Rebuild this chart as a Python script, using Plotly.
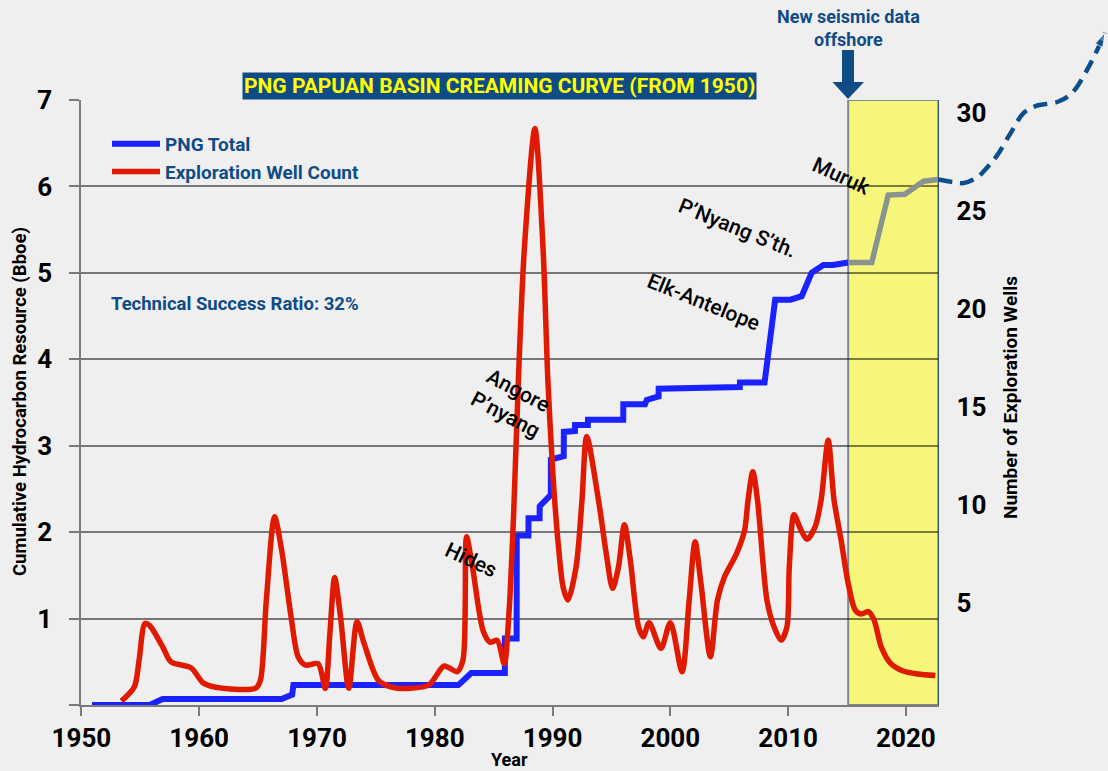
import plotly.graph_objects as go

# ---------------- data ----------------
png_total_year = [1950.9, 1955.8, 1956.9, 1967.0, 1967.9, 1968.0, 1982.0, 1983.1, 1985.95, 1985.96,
                  1986.95, 1986.96, 1987.95, 1987.96, 1988.9, 1988.91, 1989.85, 1989.86, 1990.95, 1990.96,
                  1991.9, 1991.91, 1993.0, 1993.01, 1996.0, 1996.01, 1997.85, 1998.0, 1999.0, 1999.01,
                  2005.9, 2005.91, 2008.0, 2008.9, 2010.2, 2011.15, 2012.0, 2013.0, 2013.8, 2015.1]
png_total_bboe = [0.0, 0.0, 0.07, 0.07, 0.12, 0.23, 0.23, 0.37, 0.37, 0.77,
                  0.77, 1.96, 1.96, 2.16, 2.16, 2.30, 2.43, 2.84, 2.88, 3.16,
                  3.17, 3.24, 3.24, 3.30, 3.30, 3.48, 3.48, 3.53, 3.57, 3.66,
                  3.68, 3.73, 3.73, 4.69, 4.69, 4.73, 5.00, 5.09, 5.09, 5.12]

recent_year = [2015.1, 2017.1, 2018.5, 2019.9, 2021.5, 2022.75]
recent_bboe = [5.12, 5.12, 5.90, 5.91, 6.06, 6.08]

outlook_year = [2022.75, 2024.0, 2024.9, 2026.1, 2026.9, 2027.7, 2028.9, 2030.0, 2031.0, 2032.9,
                2034.1, 2035.7, 2036.9]
outlook_bboe = [6.08, 6.05, 6.04, 6.11, 6.22, 6.35, 6.62, 6.85, 6.93, 6.98,
                7.08, 7.43, 7.78]

well_year = [1953.4, 1954.5, 1954.9, 1955.4, 1955.8, 1956.9, 1957.6, 1959.3, 1960.4, 1961.9,
             1964.8, 1965.2, 1965.7, 1966.4, 1967.0, 1967.8, 1968.4, 1969.0, 1970.1, 1970.7,
             1971.1, 1971.5, 1972.0, 1972.7, 1973.4, 1974.0, 1975.2, 1976.4, 1977.9, 1979.5,
             1980.8, 1981.9, 1982.4, 1982.7, 1983.2, 1984.1, 1984.7, 1985.3, 1985.9, 1986.3,
             1986.7, 1987.1, 1987.6, 1988.5, 1989.2, 1989.6, 1990.06, 1990.5, 1990.9, 1991.3,
             1992.0, 1992.5, 1992.9, 1993.9, 1994.6, 1995.1, 1995.6, 1996.1, 1996.6, 1997.3,
             1997.7, 1998.2, 1999.2, 2000.0, 2001.0, 2001.6, 2002.1, 2002.6, 2003.4, 2004.0,
             2004.6, 2005.6, 2006.3, 2006.6, 2007.0, 2007.4, 2008.2, 2008.8, 2009.4, 2009.9,
             2010.1, 2010.5, 2011.1, 2011.6, 2012.3, 2012.8, 2013.4, 2013.9, 2014.5, 2015.1,
             2015.7, 2016.2, 2016.8, 2017.3, 2017.9, 2018.7, 2019.7, 2021.0, 2022.5]
well_count = [0.0, 0.73, 2.1, 3.96, 3.85, 2.77, 2.0, 1.7, 0.9, 0.66,
              0.66, 1.07, 5.15, 9.4, 7.7, 4.3, 2.26, 1.84, 1.9, 0.65,
              3.47, 6.3, 4.3, 0.65, 4.05, 2.94, 1.07, 0.7, 0.65, 0.82,
              1.79, 1.5, 2.1, 8.38, 6.85, 3.6, 3.0, 3.1, 1.9, 4.5,
              9.6, 16.4, 23.0, 29.2, 23.0, 16.4, 11.3, 7.9, 5.8, 5.15,
              6.85, 10.25, 13.5, 10.25, 7.36, 5.75, 6.85, 9.0, 7.2, 3.79,
              3.28, 4.0, 2.69, 4.0, 1.5, 5.15, 8.13, 6.0, 2.26, 5.15,
              6.34, 7.5, 8.7, 10.25, 11.7, 10.25, 5.15, 3.79, 3.11, 3.79,
              6.85, 9.5, 8.72, 8.25, 8.9, 10.25, 13.3, 10.25, 8.2, 6.0,
              4.64, 4.44, 4.56, 4.13, 2.77, 1.92, 1.55, 1.38, 1.3]

x_ticks = [1950, 1960, 1970, 1980, 1990, 2000, 2010, 2020]
left_ticks = [0, 1, 2, 3, 4, 5, 6, 7]
left_tick_text = ["", "1", "2", "3", "4", "5", "6", "7"]
right_ticks = [5, 10, 15, 20, 25, 30]
seismic_window = [2015.1, 2022.75]

events = ["Hides", "Angore<br>P’nyang", "Elk-Antelope", "P’Nyang S’th.", "Muruk"]

# ---------------- layout geometry ----------------
W, H = 1108, 771
def px(x):
    return x / W
def py(y):
    return 1 - y / H

X_RANGE = [1950, 2022.75]
Y_RANGE = [0, 7]
Y2_RANGE = [-0.2, 30.66]
xd = [px(81.4), px(938.3)]
yd = [py(705), py(100)]

def extend(rng, dom):
    span = (rng[1] - rng[0]) / (dom[1] - dom[0])
    return [rng[0] - dom[0] * span, rng[1] + (1 - dom[1]) * span]

BG = "#efefef"
NAVY = "#0f4c85"
FONT = "Roboto"

fig = go.Figure()

fig.add_trace(go.Scatter(x=png_total_year, y=png_total_bboe, mode="lines", name="PNG Total",
                         line=dict(color="#1a22ff", width=6), xaxis="x", yaxis="y",
                         legendgroup="a"))
fig.add_trace(go.Scatter(x=well_year, y=well_count, mode="lines", name="Exploration Well Count",
                         line=dict(color="#e01a00", width=5.5, shape="spline", smoothing=0.8),
                         xaxis="x", yaxis="y2", legendgroup="b"))
fig.add_trace(go.Scatter(x=recent_year, y=recent_bboe, mode="lines", showlegend=False,
                         line=dict(color="#8a948e", width=5.5), xaxis="x", yaxis="y"))
sizes = [0] * (len(outlook_year) - 1) + [15]
fig.add_trace(go.Scatter(x=outlook_year, y=outlook_bboe, mode="lines+markers", showlegend=False,
                         line=dict(color="#0d4f8b", width=4.5, dash="14px,8px", shape="spline"),
                         marker=dict(symbol="arrow", angleref="previous", size=sizes, color="#0d4f8b"),
                         xaxis="x3", yaxis="y3", cliponaxis=False))

tickfont = dict(family=FONT, size=26, color="black", weight="bold")

fig.update_layout(
    template="none",
    margin=dict(l=0, r=0, t=0, b=0, pad=0, autoexpand=False),
    paper_bgcolor=BG, plot_bgcolor="rgba(0,0,0,0)",
    font=dict(family=FONT),
    showlegend=True,
    legend=dict(x=px(107), y=py(125), xanchor="left", yanchor="top", bgcolor="rgba(0,0,0,0)",
                font=dict(family=FONT, size=19, color=NAVY, weight="bold"),
                traceorder="grouped", tracegroupgap=0, itemwidth=48),
    xaxis=dict(domain=xd, range=X_RANGE, tickvals=x_ticks, ticks="outside", ticklen=9,
               tickcolor="#7a7a7a", tickwidth=2, showline=True, linecolor="#7a7a7a", linewidth=2,
               showgrid=False, zeroline=False, tickfont=tickfont, anchor="y",
               ticklabelstandoff=0, automargin=False),
    yaxis=dict(domain=yd, range=Y_RANGE, tickvals=left_ticks, ticktext=left_tick_text,
               ticks="outside", ticklen=10, tickcolor="#7a7a7a", tickwidth=2,
               showline=True, linecolor="#7a7a7a", linewidth=2,
               showgrid=True, gridcolor="rgba(0,0,0,0.5)", gridwidth=1.5,
               zeroline=False, tickfont=tickfont, anchor="x", ticklabelstandoff=12,
               automargin=False),
    yaxis2=dict(domain=yd, range=Y2_RANGE, overlaying="y", side="right", anchor="x",
                tickvals=right_ticks, showgrid=False, zeroline=False, ticks="",
                showline=True, linecolor="#3b5470", linewidth=1,
                tickfont=tickfont, ticklabelstandoff=12, automargin=False),
    xaxis3=dict(domain=[0, 1], range=extend(X_RANGE, xd), visible=False, anchor="y3",
                automargin=False),
    yaxis3=dict(domain=[0, 1], range=extend(Y_RANGE, yd), visible=False, anchor="x3",
                automargin=False),
)

# seismic window shading
fig.add_shape(type="rect", xref="x", yref="y", x0=seismic_window[0], x1=seismic_window[1],
              y0=Y_RANGE[0], y1=Y_RANGE[1], fillcolor="#f6f67a",
              line=dict(color="#7f8b93", width=2), layer="below")

# arrow for seismic note
ax = px(848)
arrow_path = ("M {a},{y1} L {b},{y1} L {b},{y2} L {c},{y2} L {t},{y3} L {d},{y2} L {e},{y2} L {e},{y1} Z"
              .format(a=px(842), b=px(842), c=px(832.5), t=ax, d=px(864), e=px(854),
                      y1=py(50), y2=py(82), y3=py(99)))
fig.add_shape(type="path", xref="paper", yref="paper", path=arrow_path,
              fillcolor=NAVY, line=dict(color=NAVY, width=0))

def note(text, x, y, size, color="black", weight="bold", angle=0, xanchor="center",
         yanchor="middle", **kw):
    return dict(text=text, x=px(x), y=py(y), xref="paper", yref="paper", showarrow=False,
                xanchor=xanchor, yanchor=yanchor, textangle=angle,
                font=dict(family=FONT, size=size, color=color, weight=weight), **kw)

ann = [
    note("PNG PAPUAN BASIN CREAMING CURVE (FROM 1950)", 500, 100, 21, color="#ffff00",
         yanchor="bottom", bgcolor=NAVY, borderpad=1),
    note("New seismic data<br>offshore", 848, 28, 18, color=NAVY),
    note("Technical Success Ratio: 32%", 109, 304, 18.5, color=NAVY, xanchor="left"),
    note("Cumulative Hydrocarbon Resource (Bboe)", 20, 402, 18.5, angle=-90),
    note("Number of Exploration Wells", 1010, 398, 19, angle=-90),
    note("Year", 509, 759, 18),
]

event_pos = [(471, 560, 25), (512, 402, 28), (703, 302, 22), (737, 228, 22), (841, 176, 25)]
for label, (x, y, ang) in zip(events, event_pos):
    ann.append(note(label, x, y, 21, weight=500, angle=ang))

fig.update_layout(annotations=ann)

fig.write_html("out.html", config={"displayModeBar": False}, post_script=(
    "document.body.style.margin='0';"
    "document.documentElement.style.overflow='hidden';"
    "document.body.style.overflow='hidden';"
    "Plotly.Plots.resize(document.getElementById('{plot_id}'));"))
